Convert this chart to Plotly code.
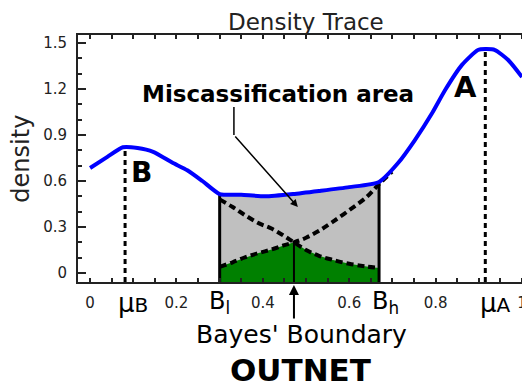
import numpy as np
import plotly.graph_objects as go

# ---- data ----
blue_x = [0.0, 0.04, 0.076, 0.11, 0.146, 0.19, 0.225, 0.26, 0.30, 0.35, 0.405, 0.47,
          0.53, 0.60, 0.669, 0.713, 0.752, 0.792, 0.822, 0.861, 0.898, 0.915, 0.9375,
          0.968, 1.0]
blue_y = [0.685, 0.757, 0.82, 0.815, 0.79, 0.72, 0.67, 0.60, 0.515, 0.51, 0.50, 0.515,
          0.535, 0.56, 0.594, 0.717, 0.867, 1.043, 1.193, 1.357, 1.454, 1.46, 1.454,
          1.389, 1.278]

dash_x = [0.30, 0.33, 0.36, 0.39, 0.42, 0.45, 0.472, 0.50, 0.53, 0.56, 0.60, 0.64, 0.669]
compB_y = [0.48, 0.43, 0.375, 0.325, 0.29, 0.24, 0.20, 0.15, 0.112, 0.087, 0.06, 0.042, 0.033]
compA_y = [0.04, 0.07, 0.103, 0.13, 0.153, 0.182, 0.20, 0.23, 0.275, 0.33, 0.41, 0.495, 0.58]
compA_ext_x = [0.669, 0.699]
compA_ext_y = [0.58, 0.66]

B_LOW = 0.30
B_HIGH = 0.669
BAYES = 0.472
BAYES_TOP = 0.20
MU_B = 0.081
MU_B_TOP = 0.80
MU_A = 0.915
MU_A_TOP = 1.45

YMIN, YMAX = -0.0587, 1.552
XMIN, XMAX = -0.028, 1.0185

FONT = "DejaVu Sans"

fig = go.Figure()

# gray misclassification area (under total density between B_l and B_h)
i0 = blue_x.index(B_LOW)
i1 = blue_x.index(B_HIGH)
gx = blue_x[i0:i1 + 1]
gy = blue_y[i0:i1 + 1]
fig.add_trace(go.Scatter(x=gx + [gx[-1], gx[0]], y=gy + [YMIN, YMIN], fill="toself",
                         fillcolor="#c0c0c0", line=dict(width=0), mode="lines",
                         hoverinfo="skip", showlegend=False))

# green overlap area
green_y = list(np.minimum(compA_y, compB_y))
fig.add_trace(go.Scatter(x=dash_x + [dash_x[-1], dash_x[0]], y=green_y + [YMIN, YMIN],
                         fill="toself", fillcolor="#008000", line=dict(width=0),
                         mode="lines", hoverinfo="skip", showlegend=False))

# component densities (dashed)
fig.add_trace(go.Scatter(x=dash_x, y=compB_y, mode="lines",
                         line=dict(color="black", width=4, dash="7px,4px", shape="spline"),
                         showlegend=False))
fig.add_trace(go.Scatter(x=dash_x + compA_ext_x[1:], y=compA_y + compA_ext_y[1:], mode="lines",
                         line=dict(color="black", width=4, dash="7px,4px", shape="spline"),
                         showlegend=False))

# vertical boundaries
fig.add_trace(go.Scatter(x=[B_LOW, B_LOW], y=[YMIN, blue_y[i0]], mode="lines",
                         line=dict(color="black", width=3), showlegend=False))
fig.add_trace(go.Scatter(x=[B_HIGH, B_HIGH], y=[YMIN, blue_y[i1]], mode="lines",
                         line=dict(color="black", width=3), showlegend=False))
fig.add_trace(go.Scatter(x=[BAYES, BAYES], y=[YMIN, BAYES_TOP], mode="lines",
                         line=dict(color="black", width=2), showlegend=False))

# means (dotted)
fig.add_trace(go.Scatter(x=[MU_B, MU_B], y=[YMIN, MU_B_TOP], mode="lines",
                         line=dict(color="black", width=3, dash="5px,4px"), showlegend=False))
fig.add_trace(go.Scatter(x=[MU_A, MU_A], y=[YMIN, MU_A_TOP], mode="lines",
                         line=dict(color="black", width=3, dash="5px,4px"), showlegend=False))

# total density (blue)
fig.add_trace(go.Scatter(x=blue_x, y=blue_y, mode="lines",
                         line=dict(color="#0000ff", width=4, shape="spline", smoothing=0.6),
                         showlegend=False))

# misclassification pointer: vertical segment then arrow
ARR_X, ARR_TOP, ARR_BEND = 0.333, 1.083, 0.90
ARR_TIP_X, ARR_TIP_Y = 0.481, 0.43
fig.add_trace(go.Scatter(x=[ARR_X, ARR_X], y=[ARR_TOP, ARR_BEND], mode="lines",
                         line=dict(color="black", width=1.5), showlegend=False))

annotations = [
    dict(x=ARR_TIP_X, y=ARR_TIP_Y, ax=ARR_X, ay=ARR_BEND, xref="x", yref="y",
         axref="x", ayref="y", text="", showarrow=True, arrowhead=2, arrowsize=1,
         arrowwidth=1.5, arrowcolor="black"),
    dict(x=0.436, y=1.17, xref="x", yref="y", text="<b>Miscassification area</b>",
         showarrow=False, font=dict(family=FONT, size=23, color="black")),
    dict(x=0.12, y=0.655, xref="x", yref="y", text="<b>B</b>", showarrow=False,
         font=dict(family=FONT, size=28, color="black")),
    dict(x=0.868, y=1.21, xref="x", yref="y", text="<b>A</b>", showarrow=False,
         font=dict(family=FONT, size=29, color="black")),
    # title
    dict(x=0.504, y=1.0526, xref="paper", yref="paper", text="Density Trace",
         showarrow=False, yanchor="middle", font=dict(family=FONT, size=23, color="#222")),
    # y label
    dict(x=-0.128, y=0.5, xref="paper", yref="paper", text="density", textangle=-90,
         showarrow=False, xanchor="center", yanchor="middle",
         font=dict(family=FONT, size=24, color="#222")),
    # special x labels
    dict(x=B_LOW, y=-0.012, xref="x", yref="paper", text="B<sub>l</sub>", showarrow=False,
         yanchor="top", font=dict(family=FONT, size=24, color="black")),
    dict(x=B_HIGH + 0.015, y=-0.012, xref="x", yref="paper", text="B<sub>h</sub>",
         showarrow=False, yanchor="top", font=dict(family=FONT, size=24, color="black")),
    dict(x=0.10, y=-0.015, xref="x", yref="paper",
         text="μ<span style='font-size:20px'>B</span>", showarrow=False,
         yanchor="top", font=dict(family=FONT, size=26, color="black")),
    dict(x=0.9375, y=-0.015, xref="x", yref="paper",
         text="μ<span style='font-size:20px'>A</span>", showarrow=False,
         yanchor="top", font=dict(family=FONT, size=26, color="black")),
    # Bayes boundary label with arrow up
    dict(x=BAYES, y=-0.012, xref="x", yref="paper", ax=0, ay=35, text="",
         showarrow=True, arrowhead=2, arrowwidth=2, arrowsize=1, arrowcolor="black"),
    dict(x=0.49, y=-0.212, xref="x", yref="paper", text="Bayes' Boundary",
         showarrow=False, yanchor="middle", font=dict(family=FONT, size=25, color="black")),
    dict(x=0.486, y=-0.356, xref="x", yref="paper", text="<b>OUTNET</b>",
         showarrow=False, yanchor="middle", font=dict(family=FONT, size=31, color="black")),
]

# the page body adds an 8px offset, so the figure is sized/margined to compensate
fig.update_layout(
    width=522, height=379,
    margin=dict(l=70, r=0, t=27, b=105),
    paper_bgcolor="white", plot_bgcolor="white",
    annotations=annotations,
    showlegend=False,
)
fig.update_xaxes(range=[XMIN, XMAX], showline=True, linecolor="#222", linewidth=2,
                 mirror="allticks", ticks="inside", ticklen=4, tickwidth=1.5,
                 tickcolor="#222", tickmode="linear", tick0=0, dtick=0.2,
                 minor=dict(dtick=0.05, tick0=0, ticks="inside", ticklen=4,
                            tickcolor="#222", tickwidth=1.5),
                 showgrid=False, zeroline=False, ticklabelstandoff=6, automargin=False,
                 tickfont=dict(family=FONT, size=15, color="#222"))
fig.update_yaxes(range=[YMIN, YMAX], showline=True, linecolor="#222", linewidth=2,
                 mirror="allticks", ticks="inside", ticklen=8, tickwidth=1.5,
                 tickcolor="#222", tickmode="linear", tick0=0, dtick=0.3,
                 minor=dict(dtick=0.1, tick0=0, ticks="inside", ticklen=4,
                            tickcolor="#222", tickwidth=1.5),
                 showgrid=False, zeroline=False, ticklabelstandoff=6, automargin=False,
                 tickfont=dict(family=FONT, size=15, color="#222"))

fig.write_html("out.html")
